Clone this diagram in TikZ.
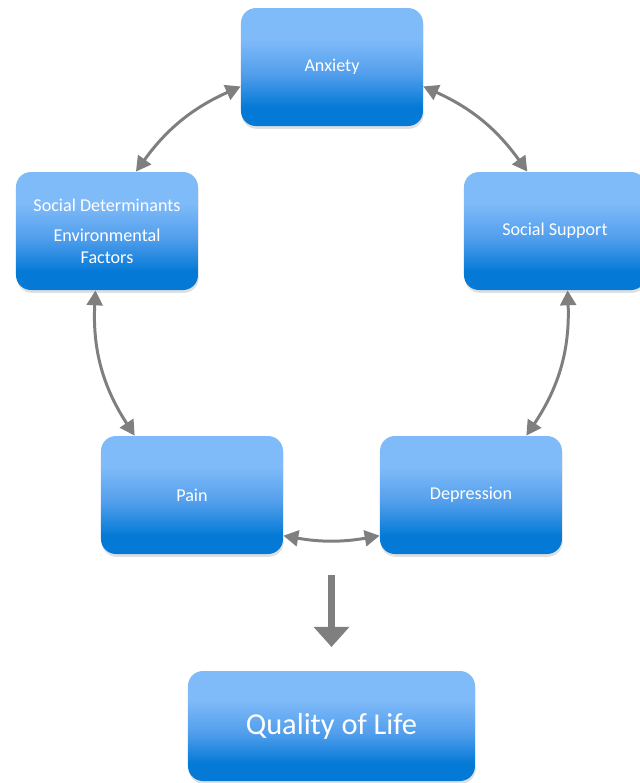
\documentclass[tikz,border=0pt]{standalone}
\usepackage{fontspec}
\setmainfont{Carlito}
\usetikzlibrary{arrows.meta, positioning, shadows, calc}

\definecolor{boxlight}{RGB}{128,187,249}
\definecolor{boxmid}{RGB}{82,158,236}
\definecolor{boxdark}{RGB}{4,122,214}
\definecolor{linkgray}{RGB}{127,127,127}
\pgfdeclareverticalshading{boxfill}{100bp}{color(0bp)=(boxdark); color(25bp)=(boxdark); color(33bp)=(boxdark); color(47bp)=(boxmid); color(62bp)=(boxlight); color(75bp)=(boxlight); color(100bp)=(boxlight)}

\begin{document}
\begin{tikzpicture}[
        on grid,
        factor/.style={rectangle, rounded corners=8.5pt, shading=boxfill, text=white,
          minimum width=3.64cm, minimum height=2.36cm, align=center,
          font=\fontsize{10.3}{12.2}\selectfont,
          drop shadow={opacity=0.25, shadow xshift=0.4pt, shadow yshift=-1.6pt}},
        link/.style={{Triangle[length=8.5pt,width=9pt]}-{Triangle[length=8.5pt,width=9pt]},
          draw=linkgray, line width=1.7pt},
        bigarrow/.style={-{Triangle[length=11.5pt,width=19.8pt]}, draw=linkgray, line width=4.2pt}
        ]
        \useasboundingbox (-6.64,-14.32) rectangle (6.16,1.34);

        \node[factor]            (anx)                                        {Anxiety};
        \node[factor]            (sd)  [below left=3.28cm and 4.5cm of anx]   {Social Determinants\\[5pt]Environmental\\Factors};
        \node[factor]            (ss)  [below right=3.28cm and 4.46cm of anx] {Social Support};
        \node[factor]            (pain) [below right=5.28cm and 1.7cm of sd]  {Pain};
        \node[factor]            (dep) [right=5.58cm of pain]                 {Depression};

        \coordinate (mid)  at ($(pain)!0.5!(dep)$);
        \coordinate (qtop) at ($(mid)+(0,-1.6)$);
        \coordinate (qend) at ($(mid)+(0,-3.04)$);
        \node[factor, minimum width=5.74cm, minimum height=2.2cm, font=\fontsize{17.3}{20}\selectfont]
                                 (qol) at ($(mid)+(0,-4.62)$)                 {Quality of Life};

        \draw[link] (sd.64)    to [bend left=15]  (anx.192);
        \draw[link] (anx.348)  to [bend left=15]  (ss.115);
        \draw[link] (sd.259)   to [bend right=18] (pain.134);
        \draw[link] (ss.282)   to [bend left=18]  (dep.47);
        \draw[link] (pain.336) to [bend right=10] (dep.204);

        \draw[bigarrow] (qtop) -- (qend);
      \end{tikzpicture}
\end{document}
